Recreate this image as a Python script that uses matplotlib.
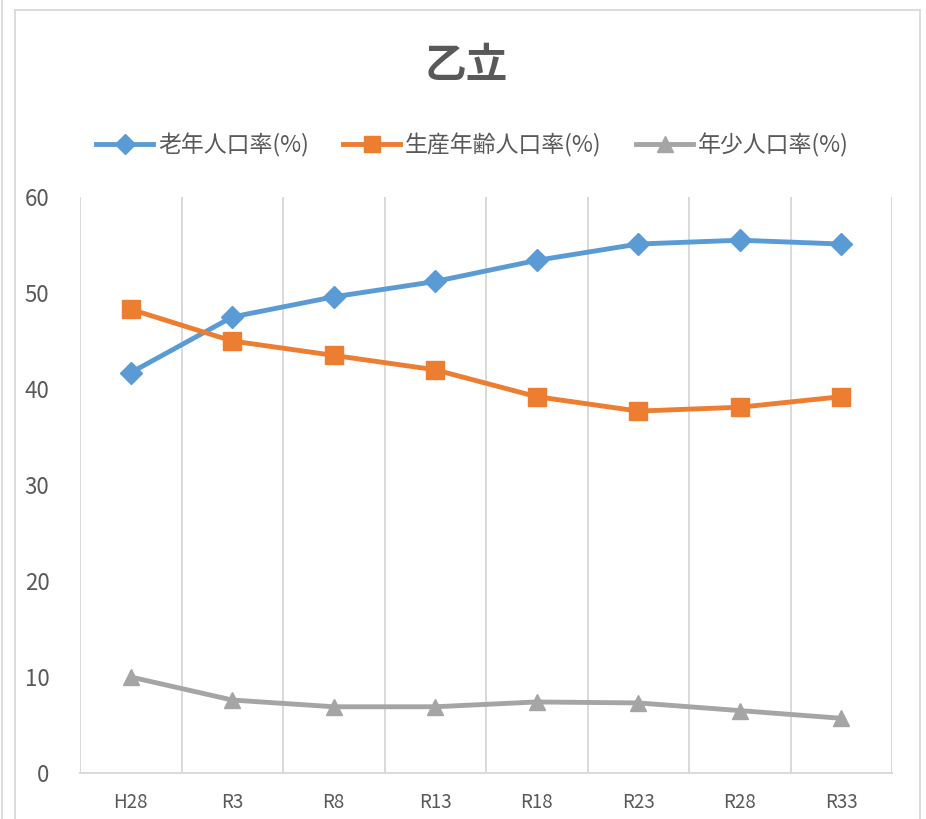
import numpy as np
import matplotlib.pyplot as plt
from matplotlib.patches import Rectangle
from matplotlib.lines import Line2D

plt.rcParams['font.family'] = ['Noto Sans CJK JP', 'DejaVu Sans']

# population ratio projections
years = ['H28', 'R3', 'R8', 'R13', 'R18', 'R23', 'R28', 'R33']
elderly = [41.7, 47.5, 49.6, 51.2, 53.4, 55.1, 55.5, 55.1]
working = [48.3, 45.0, 43.5, 42.0, 39.2, 37.7, 38.1, 39.2]
youth = [10.0, 7.6, 6.9, 6.9, 7.4, 7.3, 6.5, 5.7]

series_names = ['老年人口率(%)', '生産年齢人口率(%)', '年少人口率(%)']
colors = ['#5B9BD5', '#ED7D31', '#A5A5A5']
markers = ['D', 's', '^']
msizes = [11, 13, 12]

fig = plt.figure(figsize=(9.26, 8.19), dpi=100)
ax = fig.add_axes([80 / 926, 1 - 773 / 819, (892 - 80) / 926, (773 - 197) / 819])

x = np.arange(len(years))
for vals, c, m, ms, name in zip([elderly, working, youth], colors, markers, msizes, series_names):
    ax.plot(x, vals, color=c, lw=3.5, marker=m, markersize=ms, label=name, zorder=3)

# vertical gridlines between categories
for b in np.arange(-0.5, len(years)):
    ax.axvline(b, color='#d9d9d9', lw=1.4, zorder=1)

ax.set_xlim(-0.5, len(years) - 0.5)
ax.set_ylim(0, 60)
ax.set_yticks(range(0, 61, 10))
ax.set_xticks(x)
ax.set_xticklabels(years)
ax.tick_params(axis='y', length=0, pad=22, labelsize=16, labelcolor='#595959')
ax.tick_params(axis='x', length=0, pad=14, labelsize=13.5, labelcolor='#595959')
for s in ['top', 'left', 'right']:
    ax.spines[s].set_visible(False)
ax.spines['bottom'].set_color('#d9d9d9')
ax.spines['bottom'].set_linewidth(1.4)

fig.text(0.503, 1 - 66 / 819, '乙立', ha='center', va='center',
         fontsize=30, fontweight='bold', color='#595959')

handles = [Line2D([0], [0], color=c, lw=3.5, marker=m, markersize=ms - 1)
           for c, m, ms in zip(colors, markers, msizes)]
fig.legend(handles, series_names, loc='center', bbox_to_anchor=(0.51, 1 - 145 / 819),
           ncol=3, frameon=False, fontsize=16.5, handlelength=2.5, handletextpad=0.2,
           columnspacing=1.5, labelcolor='#595959')

# chart area border
fig.patches.append(Rectangle((15 / 926, -0.05), (920 - 15) / 926, 1.05 - 10 / 819,
                             transform=fig.transFigure, fill=False,
                             edgecolor='#d9d9d9', lw=1.3))
fig.lines.append(Line2D([2 / 926, 2 / 926], [0, 1], transform=fig.transFigure,
                        color='#d9d9d9', lw=1.3))

fig.savefig('out.png', dpi=100)
